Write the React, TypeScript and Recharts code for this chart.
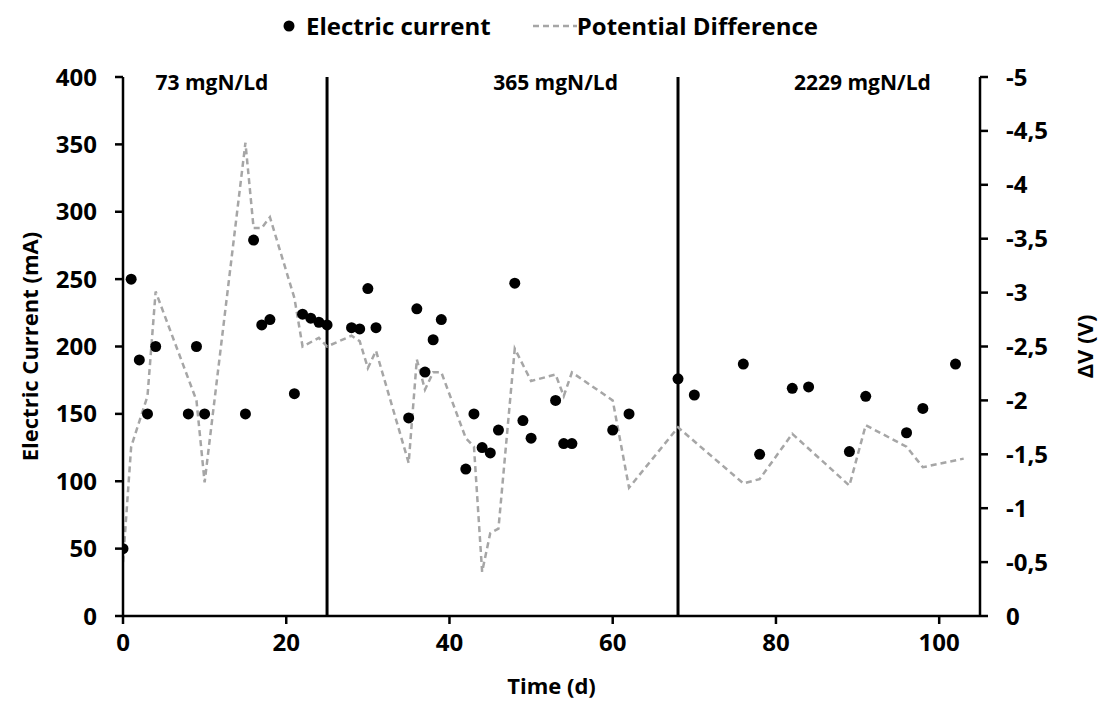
import React from 'react';
import {
  ComposedChart,
  Scatter,
  Line,
  XAxis,
  YAxis,
  ReferenceLine,
  ReferenceDot,
} from 'recharts';

// Electric current (mA) measured on these days
const currentDays = [
  0, 1, 2, 3, 4, 8, 9, 10, 15, 16, 17, 18, 21, 22, 23, 24, 25, 28, 29, 30, 31,
  35, 36, 37, 38, 39, 42, 43, 44, 45, 46, 48, 49, 50, 53, 54, 55, 60, 62, 68,
  70, 76, 78, 82, 84, 89, 91, 96, 98, 102,
];
const currentValues = [
  50, 250, 190, 150, 200, 150, 200, 150, 150, 279, 216, 220, 165, 224, 221, 218,
  216, 214, 213, 243, 214, 147, 228, 181, 205, 220, 109, 150, 125, 121, 138, 247,
  145, 132, 160, 128, 128, 138, 150, 176, 164, 187, 120, 169, 170, 122, 163, 136,
  154, 187,
];

// Potential difference (V)
const pdDays = [
  0, 1, 3, 4, 9, 10, 15, 16, 17, 18, 21, 22, 24, 25, 28, 29, 30, 31, 35, 36, 37,
  38, 39, 42, 43, 44, 45, 46, 48, 50, 53, 54, 55, 60, 62, 68, 76, 78, 82, 89, 91,
  96, 98, 103,
];
const pdValues = [
  -0.5, -1.57, -2.04, -3.01, -2.0, -1.24, -4.39, -3.6, -3.6, -3.7, -2.95, -2.5,
  -2.58, -2.5, -2.6, -2.55, -2.3, -2.46, -1.42, -2.38, -2.1, -2.26, -2.26, -1.65,
  -1.57, -0.41, -0.77, -0.81, -2.48, -2.18, -2.24, -2.04, -2.26, -2.0, -1.19,
  -1.75, -1.23, -1.27, -1.69, -1.21, -1.77, -1.57, -1.38, -1.46,
];

const xTicks = [0, 20, 40, 60, 80, 100];
const leftTicks = [0, 50, 100, 150, 200, 250, 300, 350, 400];
const rightTicks = [0, -0.5, -1, -1.5, -2, -2.5, -3, -3.5, -4, -4.5, -5];

const phaseBounds = [25, 68];
const phaseLabels = ['73 mgN/Ld', '365 mgN/Ld', '2229 mgN/Ld'];
const phaseLabelX = [10.9, 53, 90.6];

const currentData = currentDays.map((x, i) => ({ x, i: currentValues[i] }));
const pdData = pdDays.map((x, i) => ({ x, v: pdValues[i] }));

const font = '"Open Sans", sans-serif';
const tickStyle = { fontSize: 24, fontWeight: 700, fill: '#000', fontFamily: font };
const titleStyle = { fontSize: 22, fontWeight: 700, fill: '#000', fontFamily: font };
const axisLine = { stroke: '#000', strokeWidth: 2.5 };
const tickLine = { stroke: '#000', strokeWidth: 2.5 };

const Dot = (props: any) => <circle cx={props.cx} cy={props.cy} r={5.5} fill="#000" />;

export default function App() {
  return (
    <div style={{ position: 'absolute', left: 0, top: 0, width: 1100, height: 713, background: '#fff', fontFamily: font }}>
      <div
        style={{
          position: 'absolute',
          top: 9,
          left: 0,
          width: 1100,
          display: 'flex',
          justifyContent: 'center',
          alignItems: 'center',
          fontSize: 24,
          fontWeight: 700,
          color: '#000',
        }}
      >
        <svg width={14} height={14} style={{ marginRight: 10 }}>
          <circle cx={7} cy={7} r={5.5} fill="#000" />
        </svg>
        <span>Electric current</span>
        <svg width={44} height={14} style={{ marginLeft: 42 }}>
          <line x1={0} y1={7} x2={44} y2={7} stroke="#A6A6A6" strokeWidth={2.5} strokeDasharray="6 4" />
        </svg>
        <span>Potential Difference</span>
      </div>
      <ComposedChart width={1100} height={713} margin={{ top: 77, right: 5, bottom: 5, left: 10 }}>
        <XAxis
          type="number"
          dataKey="x"
          domain={[0, 105]}
          ticks={xTicks}
          allowDataOverflow
          tick={tickStyle}
          tickSize={8}
          tickMargin={10}
          axisLine={axisLine}
          tickLine={tickLine}
          height={92}
          label={{ value: 'Time (d)', position: 'insideBottom', offset: 14, style: titleStyle }}
        />
        <YAxis
          yAxisId="left"
          domain={[0, 400]}
          ticks={leftTicks}
          tick={tickStyle}
          tickSize={8}
          tickMargin={18}
          axisLine={axisLine}
          tickLine={tickLine}
          width={113}
          label={{
            value: 'Electric Current (mA)',
            angle: -90,
            position: 'insideLeft',
            offset: 20,
            style: { ...titleStyle, textAnchor: 'middle' },
          }}
        />
        <YAxis
          yAxisId="right"
          orientation="right"
          domain={[-5, 0]}
          reversed
          ticks={rightTicks}
          tickFormatter={(v: number) => String(v).replace('.', ',')}
          tick={tickStyle}
          tickSize={8}
          tickMargin={18}
          axisLine={axisLine}
          tickLine={tickLine}
          width={115}
          label={{
            value: 'ΔV (V)',
            angle: -90,
            position: 'insideRight',
            offset: 10,
            style: { ...titleStyle, textAnchor: 'middle' },
          }}
        />
        {phaseBounds.map((b) => (
          <ReferenceLine key={b} x={b} yAxisId="left" stroke="#000" strokeWidth={3} />
        ))}
        {phaseLabels.map((t, k) => (
          <ReferenceDot
            key={t}
            x={phaseLabelX[k]}
            y={396}
            yAxisId="left"
            r={0}
            stroke="none"
            fill="none"
            label={{ value: t, position: 'center', style: { fontSize: 21, fontWeight: 700, fill: '#000', fontFamily: font } }}
          />
        ))}
        <Line
          data={pdData}
          dataKey="v"
          yAxisId="right"
          type="linear"
          stroke="#A6A6A6"
          strokeWidth={2.5}
          strokeDasharray="6 4"
          dot={false}
          activeDot={false}
          isAnimationActive={false}
        />
        <Scatter
          data={currentData}
          dataKey="i"
          yAxisId="left"
          fill="#000"
          shape={Dot}
          isAnimationActive={false}
        />
      </ComposedChart>
    </div>
  );
}
